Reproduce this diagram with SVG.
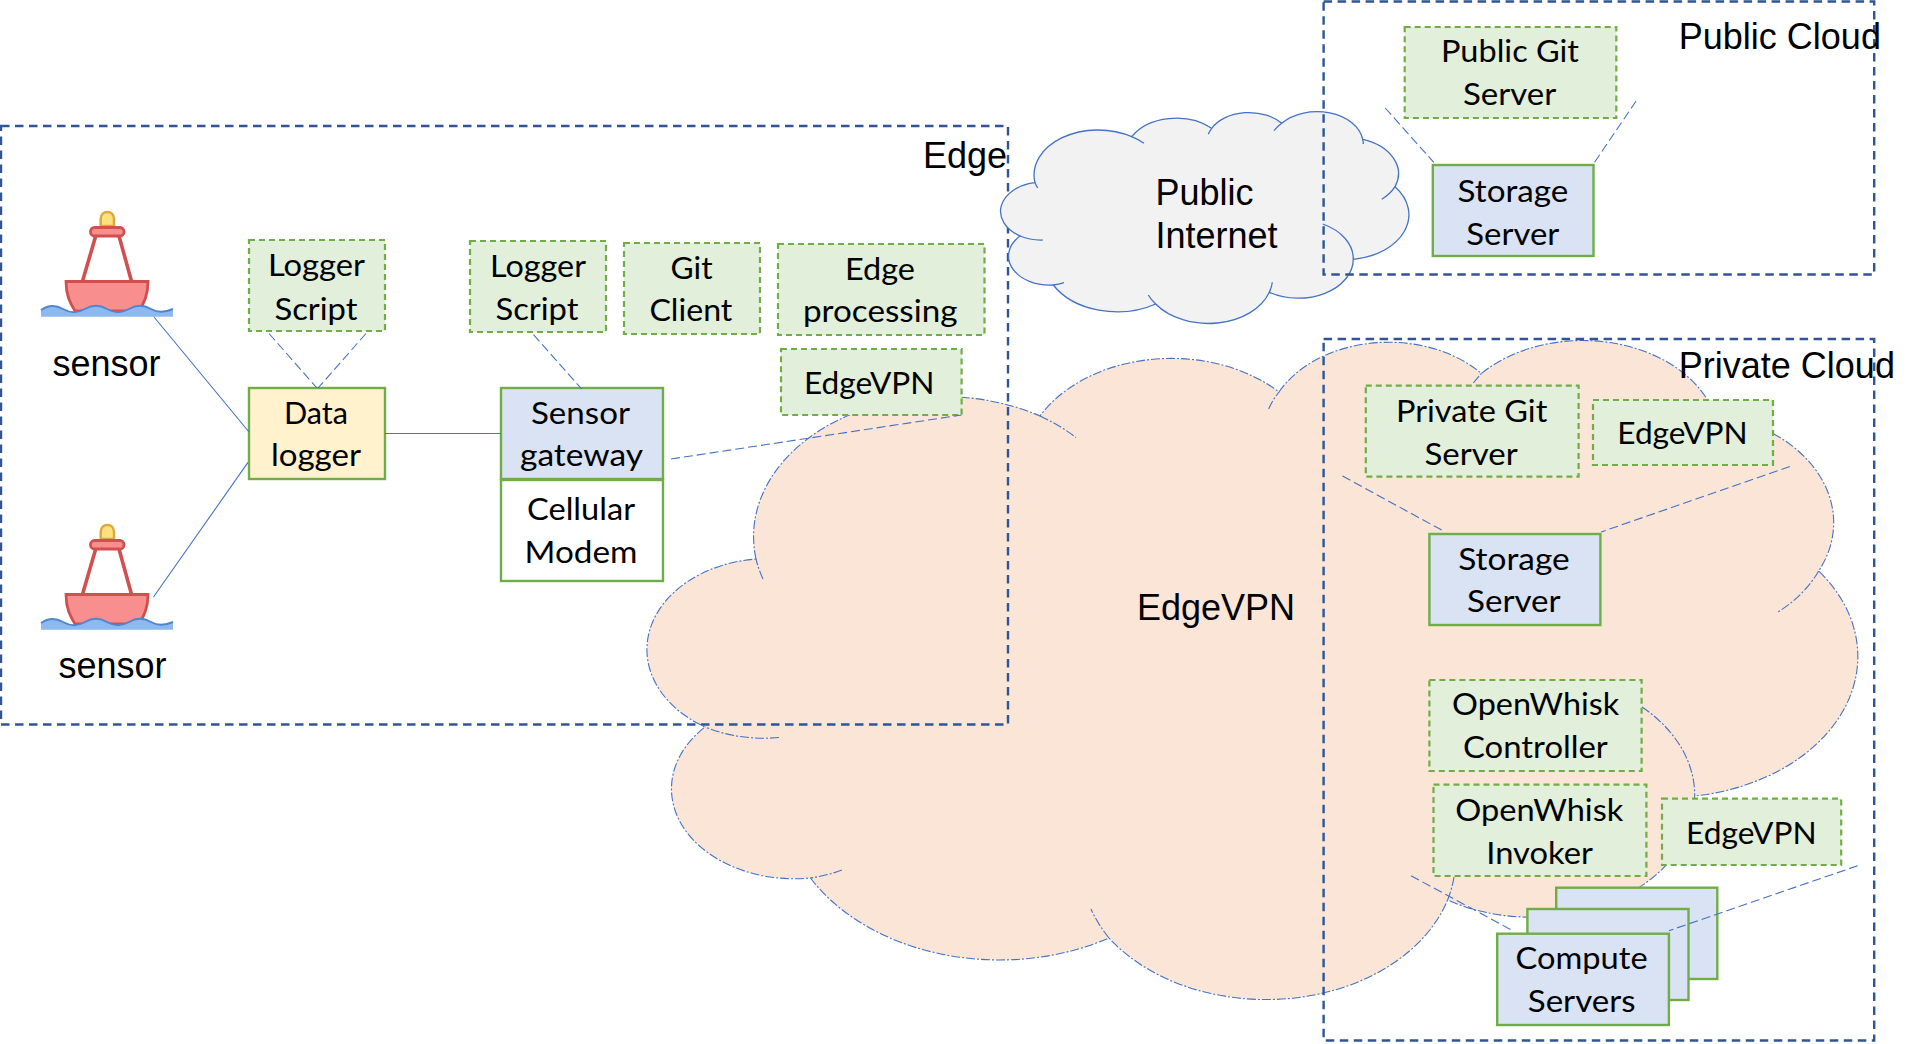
<svg xmlns="http://www.w3.org/2000/svg" xmlns:xlink="http://www.w3.org/1999/xlink" width="1916" height="1044" viewBox="0 0 1916 1044">
<style>
.bg{fill:#fff}
.t{font-family:"Lato","Carlito","Open Sans",sans-serif;font-size:31.5px;fill:#000}
.h{font-family:"Liberation Sans",Arial,sans-serif;font-size:36px;fill:#000}
.sw{fill:#E2EFDA;stroke:#70AD47;stroke-width:2.2;stroke-dasharray:6 4}
.box{stroke:#70AD47;stroke-width:2.4}
.blue{fill:#DAE3F3}
.region{fill:none;stroke:#2F5597;stroke-width:2.4;stroke-dasharray:8.5 5.5}
.link{fill:none;stroke:#4472C4;stroke-width:1.1}
.dlink{fill:none;stroke:#4472C4;stroke-width:1.1;stroke-dasharray:9 4}
.c1{fill:#FBE5D6}
.c1s{fill:none;stroke:#4472C4;stroke-width:1.1;stroke-dasharray:9 2 2 2}
.c2{fill:#F2F2F2}
.c2s{fill:none;stroke:#4472C4;stroke-width:1.3}
</style>
<defs>
<g id="buoy">
<path d="M100.700 226V219C100.700 209.500 114 209.500 114 219V226Z" fill="#FFE07F" stroke="#D9A93F" stroke-width="2.500"/>
<path d="M95.700 236L82.300 282M119 236L131.700 282" fill="none" stroke="#D24F4F" stroke-width="3.600"/>
<rect x="90.500" y="227.500" width="33.500" height="8.500" rx="4" fill="#F98E8E" stroke="#D24F4F" stroke-width="2.800"/>
<path d="M66 281.500H148C148 295 144 303 139 311H75C70 303 66 295 66 281.500Z" fill="#F98E8E" stroke="#D24F4F" stroke-width="2.800"/>
<path d="M41 310C48 305 56 305 63 309S78 313 85 309S100 305 107 309S122 313 129 309S144 305 151 309S166 312 173 309V316.700H41Z" fill="#8DB9EF"/>
<path d="M41 310C48 305 56 305 63 309S78 313 85 309S100 305 107 309S122 313 129 309S144 305 151 309S166 312 173 309" fill="none" stroke="#4F86CF" stroke-width="2"/>
</g>
</defs>
<rect class="bg" width="1916" height="1044"/>

<g id="cloud-edgevpn">
<path class="c1" d="M756 559A190 140 0 0 1 1040 416A150 111 0 0 1 1279 392A123 91 0 0 1 1481.400 373.500A137 101 0 0 1 1714.500 414A150 111 0 0 1 1818.700 571A191 141 0 0 1 1694.700 796A163 120 0 0 1 1447.600 900A190 141 0 0 1 1109 938A217 161 0 0 1 810.500 878A123 90 0 0 1 705 727A122 91 0 0 1 756 559Z"/>
<path class="c1s" d="M756 559A190 140 0 0 1 1040 416A150 111 0 0 1 1279 392A123 91 0 0 1 1481.400 373.500A137 101 0 0 1 1714.500 414A150 111 0 0 1 1818.700 571A191 141 0 0 1 1694.700 796A163 120 0 0 1 1447.600 900A190 141 0 0 1 1109 938A217 161 0 0 1 810.500 878A123 90 0 0 1 705 727A122 91 0 0 1 756 559Z"/>
<path class="c1s" d="M779 737.500A122 91 0 0 1 705 727M763 579A190 140 0 0 1 756 559M1040 416A190 140 0 0 1 1076 437.500M1268.600 409A123 91 0 0 1 1279 392M1473.400 383A137 101 0 0 1 1481.400 373.500M1818.700 571A150 111 0 0 1 1778 612M1642 707A163 120 0 0 1 1694.700 796M1454 877A190 141 0 0 1 1447.600 900M1109 938A190 141 0 0 1 1091 909M842 870A123 90 0 0 1 810.500 878"/>
<text class="h" x="1137" y="619.500">EdgeVPN</text>
</g>

<g id="region-edge">
<rect class="region" x="1" y="126" width="1007" height="598.500"/>
<text class="h" x="923" y="168">Edge</text>
</g>

<g id="cloud-internet">
<path class="c2" d="M1035 182.700A64 45 0 0 1 1131.700 136.700A51 36 0 0 1 1211.700 128.300A42 29 0 0 1 1281.700 123.300A46 32 0 0 1 1362.700 139.300A51 36 0 0 1 1395 186.700A64 45 0 0 1 1353.300 259.300A55 39 0 0 1 1269.300 292.300A64 45 0 0 1 1155.700 304A73 52 0 0 1 1053.300 285A41 29 0 0 1 1020 236A41 29 0 0 1 1035 182.700Z"/>
<path class="c2s" d="M1035 182.700A64 45 0 0 1 1131.700 136.700A51 36 0 0 1 1211.700 128.300A42 29 0 0 1 1281.700 123.300A46 32 0 0 1 1362.700 139.300A51 36 0 0 1 1395 186.700A64 45 0 0 1 1353.300 259.300A55 39 0 0 1 1269.300 292.300A64 45 0 0 1 1155.700 304A73 52 0 0 1 1053.300 285A41 29 0 0 1 1020 236A41 29 0 0 1 1035 182.700Z"/>
<path class="c2s" d="M1037.700 188A64 45 0 0 1 1035 182.700M1131.700 136.700A64 45 0 0 1 1144 143.300M1208.300 134.300A42 29 0 0 1 1211.700 128.300M1274 130.700A46 32 0 0 1 1281.700 123.300M1363.300 144A46 32 0 0 0 1362.700 139.300M1395 186.700A51 36 0 0 1 1381.700 199.300M1322.700 224A55 39 0 0 1 1353.300 259.300M1269.300 292.300A55 39 0 0 0 1272.300 282.300M1155.700 304A64 45 0 0 1 1148.300 295M1053.300 285A41 29 0 0 0 1064 282.700M1042.700 240A41 29 0 0 1 1020 236"/>
<text class="h" x="1155.500" y="205">Public</text>
<text class="h" x="1155.500" y="247.500">Internet</text>
</g>

<g id="region-public">
<rect class="region" x="1323.600" y="1.500" width="550.600" height="273"/>
<text class="h" x="1678.800" y="49">Public Cloud</text>
</g>
<g id="region-private">
<rect class="region" x="1323.600" y="339" width="550.600" height="701.500"/>
<text class="h" x="1678.800" y="377.500">Private Cloud</text>
</g>

<use id="buoy-1" xlink:href="#buoy" href="#buoy"/>
<use id="buoy-2" xlink:href="#buoy" href="#buoy" y="313"/>
<g id="sensor-1"><text class="h" x="52.500" y="375.500">sensor</text></g>
<g id="sensor-2"><text class="h" x="58.500" y="678">sensor</text></g>

<g id="logger-script-1"><rect class="sw" x="249" y="240" width="136" height="91"/>
<text class="t" x="268" y="275.500" textLength="97" lengthAdjust="spacingAndGlyphs">Logger</text>
<text class="t" x="274.500" y="319.500" textLength="83" lengthAdjust="spacingAndGlyphs">Script</text></g>
<g id="data-logger"><rect class="box" fill="#FFF2CC" x="249" y="388" width="136" height="91"/>
<text class="t" x="284" y="423.700" textLength="64" lengthAdjust="spacingAndGlyphs">Data</text>
<text class="t" x="271" y="466" textLength="90" lengthAdjust="spacingAndGlyphs">logger</text></g>
<g id="logger-script-2"><rect class="sw" x="470" y="241" width="136" height="91"/>
<text class="t" x="490" y="276.700" textLength="96" lengthAdjust="spacingAndGlyphs">Logger</text>
<text class="t" x="495.500" y="320.400" textLength="83" lengthAdjust="spacingAndGlyphs">Script</text></g>
<g id="sensor-gateway"><rect class="box blue" x="501" y="388" width="162" height="91"/>
<text class="t" x="531" y="423.700" textLength="99" lengthAdjust="spacingAndGlyphs">Sensor</text>
<text class="t" x="520" y="466" textLength="123" lengthAdjust="spacingAndGlyphs">gateway</text></g>
<g id="cellular-modem"><rect class="box" fill="#fff" x="501" y="480" width="162" height="101"/>
<text class="t" x="527" y="520.400" textLength="108" lengthAdjust="spacingAndGlyphs">Cellular</text>
<text class="t" x="524.500" y="563" textLength="113" lengthAdjust="spacingAndGlyphs">Modem</text></g>
<g id="git-client"><rect class="sw" x="624" y="243" width="136" height="91"/>
<text class="t" x="670.600" y="278.800" textLength="42" lengthAdjust="spacingAndGlyphs">Git</text>
<text class="t" x="649.400" y="321" textLength="83" lengthAdjust="spacingAndGlyphs">Client</text></g>
<g id="edge-processing"><rect class="sw" x="778" y="244" width="206.500" height="91"/>
<text class="t" x="845" y="279.600" textLength="70" lengthAdjust="spacingAndGlyphs">Edge</text>
<text class="t" x="803" y="322.400" textLength="154.500" lengthAdjust="spacingAndGlyphs">processing</text></g>
<g id="edgevpn-edge"><rect class="sw" x="781" y="349" width="180.600" height="66"/>
<text class="t" x="804" y="394" textLength="130.500" lengthAdjust="spacingAndGlyphs">EdgeVPN</text></g>

<g id="public-git"><rect class="sw" x="1404.700" y="27" width="211.600" height="91"/>
<text class="t" x="1441" y="62" textLength="138" lengthAdjust="spacingAndGlyphs">Public Git</text>
<text class="t" x="1463" y="105" textLength="93.300" lengthAdjust="spacingAndGlyphs">Server</text></g>
<g id="storage-public"><rect class="box blue" x="1432.800" y="165" width="160.700" height="91"/>
<text class="t" x="1457.600" y="202" textLength="110.700" lengthAdjust="spacingAndGlyphs">Storage</text>
<text class="t" x="1466.300" y="245" textLength="93" lengthAdjust="spacingAndGlyphs">Server</text></g>

<g id="private-git"><rect class="sw" x="1365.800" y="385.700" width="212.800" height="91"/>
<text class="t" x="1396" y="421.600" textLength="151.300" lengthAdjust="spacingAndGlyphs">Private Git</text>
<text class="t" x="1424.500" y="464.500" textLength="93.300" lengthAdjust="spacingAndGlyphs">Server</text></g>
<g id="edgevpn-private"><rect class="sw" x="1593" y="400" width="180" height="65"/>
<text class="t" x="1617.300" y="444" textLength="130.400" lengthAdjust="spacingAndGlyphs">EdgeVPN</text></g>
<g id="storage-private"><rect class="box blue" x="1429.400" y="534" width="171" height="91"/>
<text class="t" x="1458.200" y="569.800" textLength="111.500" lengthAdjust="spacingAndGlyphs">Storage</text>
<text class="t" x="1467.100" y="612" textLength="93.500" lengthAdjust="spacingAndGlyphs">Server</text></g>
<g id="openwhisk-controller"><rect class="sw" x="1429.400" y="680" width="212.200" height="91"/>
<text class="t" x="1452.100" y="715" textLength="167.200" lengthAdjust="spacingAndGlyphs">OpenWhisk</text>
<text class="t" x="1463" y="757.700" textLength="144.800" lengthAdjust="spacingAndGlyphs">Controller</text></g>
<g id="openwhisk-invoker"><rect class="sw" x="1433.500" y="784.700" width="212.900" height="91.300"/>
<text class="t" x="1455.300" y="821" textLength="168" lengthAdjust="spacingAndGlyphs">OpenWhisk</text>
<text class="t" x="1486.300" y="864.300" textLength="106.600" lengthAdjust="spacingAndGlyphs">Invoker</text></g>
<g id="edgevpn-compute"><rect class="sw" x="1662" y="798.700" width="179.200" height="66.300"/>
<text class="t" x="1686.100" y="844.300" textLength="130.500" lengthAdjust="spacingAndGlyphs">EdgeVPN</text></g>
<g id="compute-servers">
<rect class="box blue" x="1556.200" y="887.700" width="161.100" height="91.300"/>
<rect class="box blue" x="1527.400" y="909" width="161.100" height="91"/>
<rect class="box blue" x="1497.200" y="933.700" width="171.700" height="91.300"/>
<text class="t" x="1515.600" y="969" textLength="132" lengthAdjust="spacingAndGlyphs">Compute</text>
<text class="t" x="1527.800" y="1012.300" textLength="107.700" lengthAdjust="spacingAndGlyphs">Servers</text>
</g>

<g id="connectors">
<path class="link" d="M154 317L249 432M153.500 597L248 462.400M385 433.500H501"/>
<path class="dlink" d="M269 333.500L317 388M366 333.500L318 388M533.500 334.700L581.700 389M671 459L961.600 415M1385.200 108L1433.800 162.400M1636.100 101L1594.500 162.400M1342.500 476L1445.200 532M1789.900 466.500L1601.100 532M1411 875.700L1512.800 930.700M1857.700 865.700L1668.900 930.700"/>
</g>
</svg>
